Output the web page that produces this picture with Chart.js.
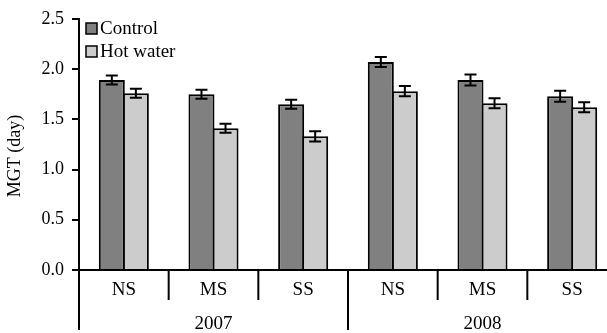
<!DOCTYPE html>
<html>
<head>
<meta charset="utf-8">
<script src="https://cdn.jsdelivr.net/npm/chart.js@4.4.1/dist/chart.umd.min.js"></script>
<style>
  html, body { margin: 0; padding: 0; background: #fff; overflow: hidden; }
  #wrap { width: 640px; height: 333px; }
</style>
</head>
<body>
<div id="wrap"><canvas id="chartMGT" width="640" height="333"></canvas></div>
<script>
// datos
const categorias = ['NS', 'MS', 'SS', 'NS', 'MS', 'SS'];
const anios = ['2007', '2008'];
const control = [1.89, 1.75, 1.65, 2.07, 1.89, 1.73];
const controlErr = [0.045, 0.045, 0.045, 0.05, 0.055, 0.055];
const aguaCaliente = [1.76, 1.41, 1.33, 1.78, 1.66, 1.62];
const aguaCalienteErr = [0.045, 0.045, 0.05, 0.05, 0.05, 0.05];
const ticksY = [0, 0.5, 1.0, 1.5, 2.0, 2.5];

const fuente = '"Liberation Serif", "Times New Roman", serif';

// barras de error
const errorBars = {
  id: 'errorBars',
  afterDatasetsDraw(chart) {
    const c = chart.ctx;
    const y = chart.scales.y;
    c.save();
    c.strokeStyle = '#000';
    c.lineWidth = 2;
    chart.data.datasets.forEach((ds, i) => {
      const meta = chart.getDatasetMeta(i);
      meta.data.forEach((bar, j) => {
        const v = ds.data[j], e = ds.errores[j];
        const yt = y.getPixelForValue(v + e);
        const yb = y.getPixelForValue(v - e);
        c.beginPath();
        c.moveTo(bar.x, yt); c.lineTo(bar.x, yb);
        c.moveTo(bar.x - 6, yt); c.lineTo(bar.x + 6, yt);
        c.moveTo(bar.x - 6, yb); c.lineTo(bar.x + 6, yb);
        c.stroke();
      });
    });
    c.restore();
  }
};

// etiquetas del eje x en dos niveles, leyenda y titulo
const ejeX = {
  id: 'ejeX',
  afterDraw(chart) {
    const c = chart.ctx;
    const x = chart.scales.x;
    const base = chart.chartArea.bottom;
    const paso = x.width / categorias.length;
    c.save();
    c.strokeStyle = '#000';
    c.lineWidth = 2;
    for (let i = 0; i < categorias.length; i++) {
      const bx = x.left + i * paso;
      const largo = (i % 3 === 0) ? 60 : 30;
      c.beginPath();
      c.moveTo(bx, base); c.lineTo(bx, base + largo);
      c.stroke();
    }
    c.fillStyle = '#000';
    c.textAlign = 'center';
    c.textBaseline = 'middle';
    c.font = '19px ' + fuente;
    categorias.forEach((cat, i) => {
      c.fillText(cat, x.getPixelForValue(i), base + 20);
    });
    anios.forEach((a, k) => {
      const xc = (x.getPixelForValue(k * 3) + x.getPixelForValue(k * 3 + 2)) / 2;
      c.fillText(a, xc, base + 54);
    });

    // leyenda
    c.textAlign = 'left';
    c.font = '19px ' + fuente;
    chart.data.datasets.forEach((ds, i) => {
      const yy = 28 + i * 23;
      c.fillStyle = ds.backgroundColor;
      c.fillRect(86, yy - 5, 11, 11);
      c.lineWidth = 1.5;
      c.strokeRect(86, yy - 5, 11, 11);
      c.fillStyle = '#000';
      c.fillText(ds.label, 100, yy + 1);
    });

    // titulo eje y
    c.save();
    c.translate(15, 156);
    c.rotate(-Math.PI / 2);
    c.textAlign = 'center';
    c.font = '18px ' + fuente;
    c.fillText('MGT (day)', 0, 0);
    c.restore();
    c.restore();
  }
};

const ctx = document.getElementById('chartMGT');
let grafico = new Chart(ctx, {
  type: 'bar',
  data: {
    labels: categorias,
    datasets: [{
      label: 'Control',
      data: control,
      errores: controlErr,
      backgroundColor: '#808080',
      borderColor: '#000',
      borderWidth: 2
    }, {
      label: 'Hot water',
      data: aguaCaliente,
      errores: aguaCalienteErr,
      backgroundColor: '#cccccc',
      borderColor: '#000',
      borderWidth: 2
    }]
  },
  options: {
    responsive: false,
    animation: false,
    categoryPercentage: 0.536,
    barPercentage: 1.083,
    layout: { padding: { top: 16, right: 23, left: 0, bottom: 0 } },
    plugins: {
      legend: { display: false },
      tooltip: { enabled: false }
    },
    scales: {
      x: {
        grid: { display: false },
        ticks: { display: false },
        border: { display: true, color: '#000', width: 2 },
        afterFit(s) { s.height = 63; }
      },
      y: {
        min: 0,
        max: 2.5,
        afterBuildTicks(s) { s.ticks = ticksY.map(v => ({ value: v })); },
        ticks: {
          color: '#000',
          padding: 8,
          font: { family: fuente, size: 18 },
          callback: (v) => Number(v).toFixed(1)
        },
        grid: { drawOnChartArea: false, drawTicks: true, tickLength: 7, color: '#000', lineWidth: 2 },
        border: { display: true, color: '#000', width: 2 },
        afterFit(s) { s.width = 79; }
      }
    }
  },
  plugins: [errorBars, ejeX]
});
</script>
</body>
</html>
